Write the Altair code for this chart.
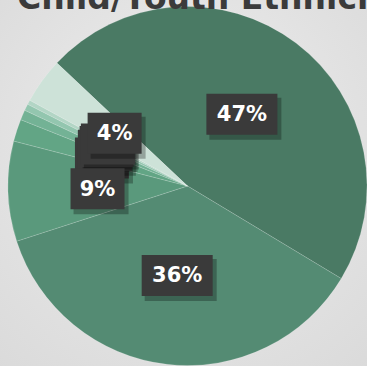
import math
import altair as alt
import pandas as pd

# ---- data ----
categories = ["Hispanic", "White", "Black", "Multiracial", "Asian",
              "Native American", "Pacific Islander", "Other"]
values = [46.6, 36.4, 9.0, 2.0, 0.9, 0.6, 0.4, 4.1]
colors = ["#4a7a64", "#548b73", "#5a997c", "#62a585", "#73b295",
          "#93c6af", "#b2d5c5", "#cde2d8"]
label_draw_order = [3, 4, 5, 6, 2, 0, 1, 7]   # later = on top
title_text = "Child/Youth Ethnicity"

# ---- layout ----
W, H = 367, 366
CX, CY, R = 187.5, 186.0, 179.5
LABEL_R = 90.0
START = math.radians(313.3)
TAU = 2 * math.pi

df = pd.DataFrame({"idx": list(range(len(categories))),
                   "category": categories, "value": values})

base = alt.Chart(df).transform_window(
    cum="sum(value)", sort=[alt.SortField("idx")], frame=[None, 0]
).transform_joinaggregate(
    total="sum(value)"
).transform_calculate(
    t1=f"{START} + {TAU} * datum.cum / datum.total"
).transform_calculate(
    t0=f"datum.t1 - {TAU} * datum.value / datum.total"
).transform_calculate(
    mid="(datum.t0 + datum.t1) / 2"
).transform_calculate(
    lx=f"{CX} + {LABEL_R} * sin(datum.mid)",
    ly=f"{CY} - {LABEL_R} * cos(datum.mid)",
    label="round(datum.value * 100 / datum.total) + '%'"
).transform_calculate(
    bw="20 + 17 * length(datum.label)"
).transform_calculate(
    bx0="datum.lx - datum.bw / 2", bx1="datum.lx + datum.bw / 2",
    by0="datum.ly - 20.5", by1="datum.ly + 20.5",
    sx0="datum.lx - datum.bw / 2 + 3", sx1="datum.lx + datum.bw / 2 + 4",
    sy0="datum.ly - 20.5 + 4", sy1="datum.ly + 20.5 + 5",
    ty="datum.ly + 1"
)

bg = alt.Chart(pd.DataFrame({"a": [0]})).mark_rect(
    fill=alt.Gradient(
        gradient="radial",
        stops=[alt.GradientStop(offset=0, color="#eeeeee"),
               alt.GradientStop(offset=1, color="#d9d9d9")],
        x1=0.5, y1=0.35, x2=0.5, y2=0.45, r1=0, r2=0.8)
).encode(x=alt.value(0), x2=alt.value(W), y=alt.value(0), y2=alt.value(H))

arcs = base.mark_arc(outerRadius=R, stroke="#ffffff", strokeOpacity=0.25,
                     strokeWidth=0.6).encode(
    theta=alt.Theta("t0:Q", scale=None),
    theta2="t1:Q",
    x=alt.value(CX), y=alt.value(CY),
    color=alt.Color("category:N",
                    scale=alt.Scale(domain=categories, range=colors),
                    legend=None),
)

label_layers = []
for i in label_draw_order:
    sub = base.transform_filter(alt.datum.idx == i)
    shadow = sub.mark_rect(color="#000000", opacity=0.28).encode(
        x=alt.X("sx0:Q", scale=None), x2="sx1:Q",
        y=alt.Y("sy0:Q", scale=None), y2="sy1:Q")
    box = sub.mark_rect(color="#3a3a3a").encode(
        x=alt.X("bx0:Q", scale=None), x2="bx1:Q",
        y=alt.Y("by0:Q", scale=None), y2="by1:Q")
    txt = sub.mark_text(font="DejaVu Sans", fontWeight="bold", fontSize=21,
                        color="#ffffff", align="center",
                        baseline="middle").encode(
        x=alt.X("lx:Q", scale=None), y=alt.Y("ty:Q", scale=None),
        text="label:N")
    label_layers += [shadow, box, txt]

title = alt.Chart(pd.DataFrame({"t": [title_text]})).mark_text(
    font="DejaVu Sans", fontWeight="bold", fontSize=33, color="#3b3b3b",
    align="left", baseline="alphabetic"
).encode(text="t:N", x=alt.value(17), y=alt.value(9))

chart = alt.layer(bg, arcs, *label_layers, title).properties(
    width=W, height=H, padding=0,
    autosize=alt.AutoSizeParams(type="none"),
    background="#e0e0e0",
).configure_view(stroke=None)

chart.save("out.html", embed_options={"renderer": "svg", "actions": False})
